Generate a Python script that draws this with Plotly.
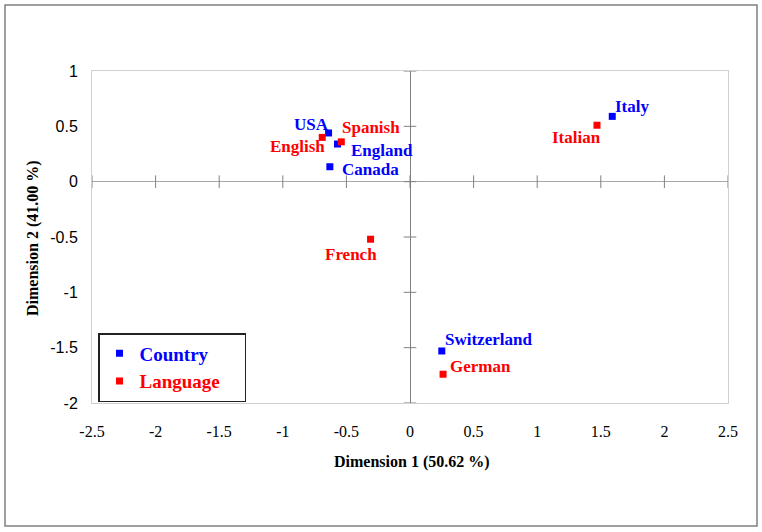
import plotly.graph_objects as go

# %% Data
country_names = ["USA", "England", "Canada", "Italy", "Switzerland"]
country_x = [-0.64, -0.57, -0.63, 1.59, 0.25]
country_y = [0.44, 0.34, 0.135, 0.59, -1.53]

language_names = ["English", "Spanish", "Italian", "French", "German"]
language_x = [-0.69, -0.54, 1.47, -0.31, 0.26]
language_y = [0.40, 0.36, 0.51, -0.52, -1.74]

x_ticks = [-2.5, -2, -1.5, -1, -0.5, 0, 0.5, 1, 1.5, 2, 2.5]
y_ticks = [-2, -1.5, -1, -0.5, 0, 0.5, 1]

# label placement: (xanchor, x shift px, y shift px down)
country_lbl = [("right", 2, -8), ("left", 11, 6), ("left", 10, 3),
               ("left", 1, -10), ("left", 1, -11)]
language_lbl = [("right", 5, 9), ("left", -1, -14), ("right", 6, 12),
                ("right", 8, 15), ("left", 5, -8)]

SERIF = "Liberation Serif"
SANS = "Liberation Sans"
BLUE = "#0000FF"
RED = "#FF0000"

# %% Layout geometry (pixels)
W, H = 762, 532
L, R, T, B = 92, 34, 71, 129
pw, ph = W - L - R, H - T - B


def px_x(p):
    return (p - L) / pw


def px_y(p):
    return (H - B - p) / ph


fig = go.Figure()

# tick marks sitting on the zero lines
fig.add_trace(go.Scatter(
    x=x_ticks, y=[0] * len(x_ticks), mode="markers",
    marker=dict(symbol="line-ns", size=9, line=dict(width=1, color="#808080")),
    hoverinfo="skip", showlegend=False,
))
fig.add_trace(go.Scatter(
    x=[0] * len(y_ticks), y=y_ticks, mode="markers",
    marker=dict(symbol="line-ew", size=9, line=dict(width=1, color="#808080")),
    hoverinfo="skip", showlegend=False,
))

fig.add_trace(go.Scatter(
    x=country_x, y=country_y, mode="markers",
    name=f"<span style='color:{BLUE}'>Country</span>",
    marker=dict(symbol="square", size=7, color=BLUE),
))
fig.add_trace(go.Scatter(
    x=language_x, y=language_y, mode="markers",
    name=f"<span style='color:{RED}'>Language\u00a0\u00a0\u00a0\u00a0</span>",
    marker=dict(symbol="square", size=7, color=RED),
))

# point labels
annos = []
for names, xs, ys, lbl, col in [
    (country_names, country_x, country_y, country_lbl, BLUE),
    (language_names, language_x, language_y, language_lbl, RED),
]:
    for n, x, y, (anc, dx, dy) in zip(names, xs, ys, lbl):
        annos.append(dict(
            x=x, y=y, text=f"<b>{n}</b>", showarrow=False,
            xanchor=anc, yanchor="middle", xshift=dx, yshift=-dy,
            font=dict(family=SERIF, size=17, color=col),
        ))

fig.update_xaxes(
    range=[-2.5, 2.5], tickvals=x_ticks, ticktext=[f"{v:g}" for v in x_ticks],
    showgrid=False, zeroline=True, zerolinecolor="#808080", zerolinewidth=1,
    showline=True, mirror=True, linecolor="#d0d0d0", linewidth=1,
    ticks="", ticklabelstandoff=14,
    tickfont=dict(family=SERIF, size=16, color="black"),
)
fig.update_yaxes(
    range=[-2, 1], tickvals=y_ticks, ticktext=[f"{v:g}" for v in y_ticks],
    showgrid=False, zeroline=True, zerolinecolor="#a8a8a8", zerolinewidth=1,
    showline=True, mirror=True, linecolor="#d0d0d0", linewidth=1,
    ticks="", ticklabelstandoff=10,
    tickfont=dict(family=SANS, size=16, color="black"),
)

annos += [
    dict(text="<b>Dimension 1 (50.62 %)</b>", xref="paper", yref="paper",
         x=px_x(412), y=px_y(462), showarrow=False,
         xanchor="center", yanchor="middle",
         font=dict(family=SERIF, size=16, color="black")),
    dict(text="<b>Dimension 2 (41.00 %)</b>", xref="paper", yref="paper",
         x=px_x(33), y=px_y(238), showarrow=False, textangle=-90,
         xanchor="center", yanchor="middle",
         font=dict(family=SERIF, size=16, color="black")),
]

fig.update_layout(
    width=W, height=H,
    margin=dict(l=L, r=R, t=T, b=B, autoexpand=False),
    paper_bgcolor="white", plot_bgcolor="white",
    legend=dict(
        x=px_x(98), y=px_y(333), xanchor="left", yanchor="top",
        bordercolor="#222222", borderwidth=1.5, bgcolor="white",
        font=dict(family=SERIF, size=19, weight="bold"),
        itemwidth=30,
    ),
    shapes=[dict(
        type="rect", xref="paper", yref="paper",
        x0=px_x(5), x1=px_x(757), y0=px_y(526), y1=px_y(5),
        line=dict(color="#808080", width=1.5), layer="below",
    )],
    annotations=annos,
)

# drop the default 8px body margin so the figure sits at the window corner
fig.write_html("out.html", config={"displayModeBar": False},
               post_script="document.body.style.margin='0';")
